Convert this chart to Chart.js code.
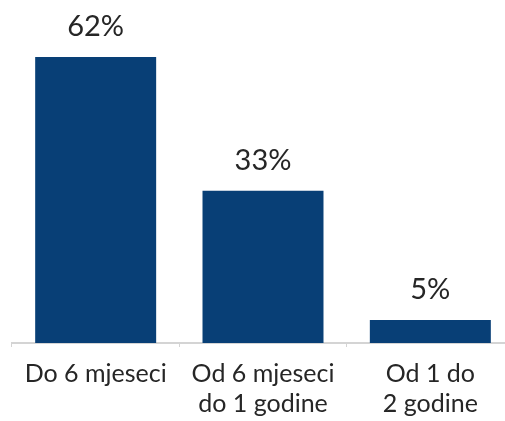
<!DOCTYPE html>
<html>
<head>
<meta charset="utf-8">
<script src="https://cdn.jsdelivr.net/npm/chart.js@4/dist/chart.umd.min.js"></script>
<style>
  html, body { margin: 0; padding: 0; background: #fff; overflow: hidden; }
  #wrap { width: 514px; height: 433px; }
</style>
</head>
<body>
<div id="wrap"><canvas id="durationChart"></canvas></div>
<script>
// Chart data
const categories = [
    ['Do 6 mjeseci'],
    ['Od 6 mjeseci', 'do 1 godine'],
    ['Od 1 do', '2 godine']
];
const shares = [62, 33, 5];

const FONT = 'Lato, "Open Sans", sans-serif';

// Draws the % value above each bar
const valueLabels = {
    id: 'valueLabels',
    afterDatasetsDraw(chart) {
        const ctx = chart.ctx;
        const meta = chart.getDatasetMeta(0);
        ctx.save();
        ctx.font = '29px ' + FONT;
        ctx.fillStyle = '#262626';
        ctx.textAlign = 'center';
        ctx.textBaseline = 'bottom';
        meta.data.forEach((bar, i) => {
            ctx.fillText(shares[i] + '%', bar.x, bar.y - 16);
        });
        ctx.restore();
    }
};

new Chart(document.getElementById('durationChart'), {
    type: 'bar',
    data: {
        labels: categories,
        datasets: [{
            data: shares,
            backgroundColor: '#083f76',
            categoryPercentage: 1,
            barPercentage: 0.723
        }]
    },
    options: {
        responsive: true,
        maintainAspectRatio: false,
        animation: false,
        layout: { padding: { left: 12, right: 0, top: 20, bottom: 2 } },
        plugins: {
            legend: { display: false },
            tooltip: { enabled: false }
        },
        scales: {
            y: {
                display: false,
                min: 0,
                max: 70
            },
            x: {
                grid: { drawOnChartArea: false, color: '#d4d4d4', tickLength: 4, lineWidth: 1 },
                border: { color: '#d4d4d4', width: 2 },
                ticks: {
                    color: '#262626',
                    font: { family: FONT, size: 25 },
                    lineHeight: 1.18,
                    padding: 12,
                    maxRotation: 0,
                    autoSkip: false
                }
            }
        }
    },
    plugins: [valueLabels]
});
</script>
</body>
</html>
